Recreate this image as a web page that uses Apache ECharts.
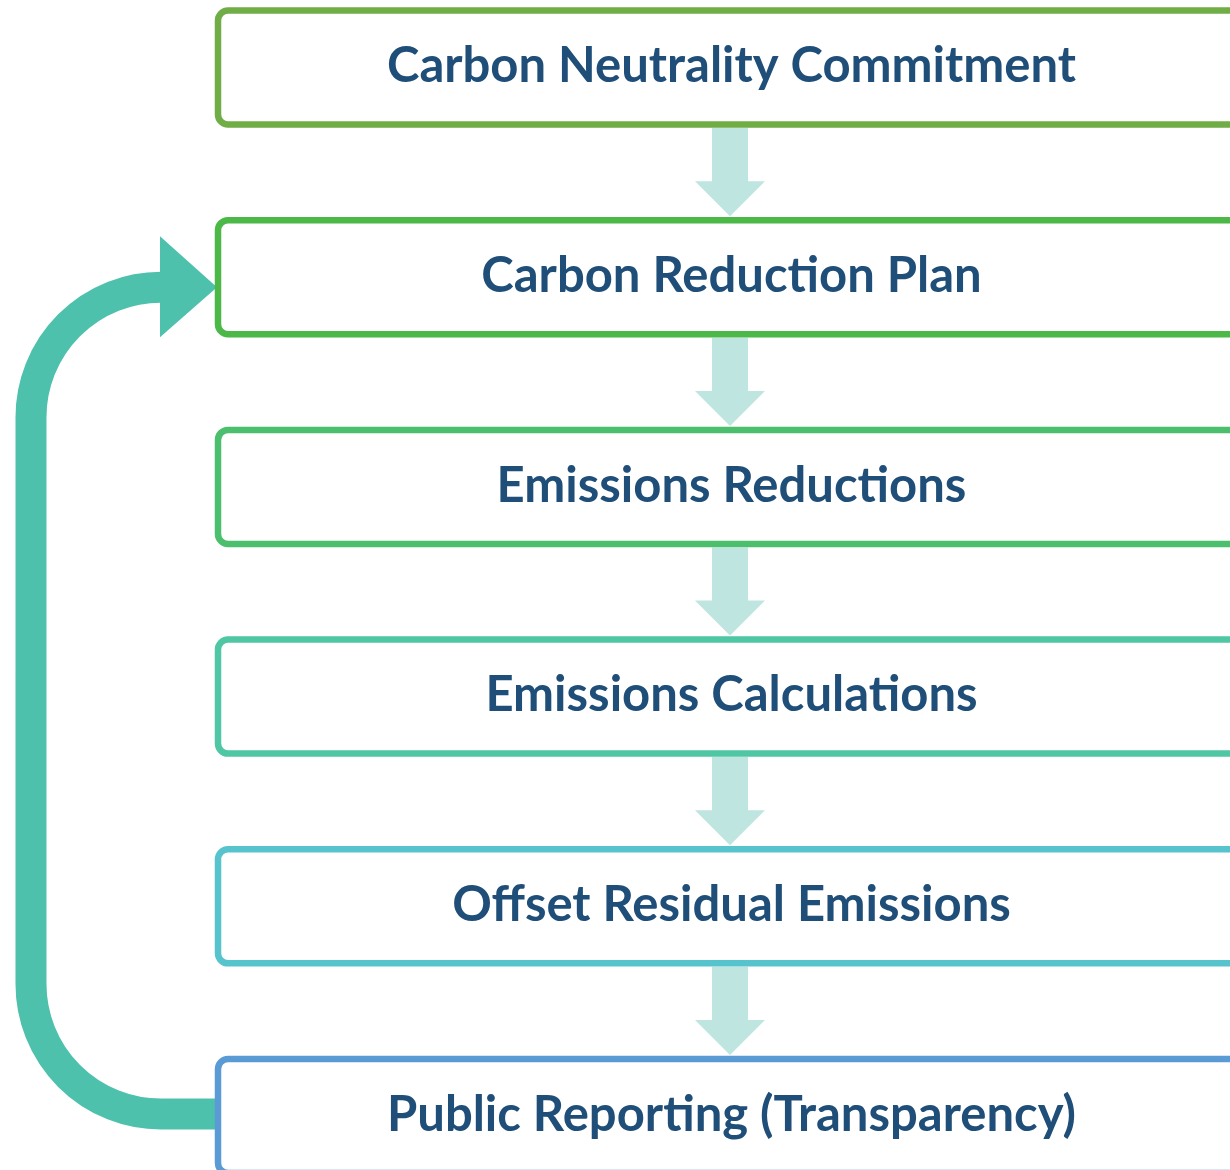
<!DOCTYPE html>
<html>

<head>
	<meta charset="UTF-8">
	<title>Carbon neutrality process</title>
	<style>
		html, body { margin: 0; padding: 0; background: #fff; }
		#display { width: 1230px; height: 1170px; }
	</style>
</head>

<body>
	<div id="display"></div>
</body>
<script src="https://cdn.jsdelivr.net/npm/echarts@6/dist/echarts.min.js"></script>
<script>
	// steps of the process, top to bottom
	var steps = [
		'Carbon Neutrality Commitment',
		'Carbon Reduction Plan',
		'Emissions Reductions',
		'Emissions Calculations',
		'Offset Residual Emissions',
		'Public Reporting (Transparency)'
	];
	// arrows between consecutive steps: [from, to]
	var links = [[0, 1], [1, 2], [2, 3], [3, 4], [4, 5]];
	// feedback loop: [from, to]
	var loops = [[5, 1]];

	// styles
	var borderColors = ['#70AD47', '#4BB848', '#4CBF6E', '#4FC6A4', '#56C3CD', '#5B9BD5'];
	var textColor = '#1F4E79';
	var linkColor = '#BEE5DF';
	var loopColor = '#4EC1AD';

	// layout (in axis units = pixels)
	var boxLeft = 218, boxRight = 1245, boxTop0 = 10.5, boxPitch = 209.7, boxH = 114;

	function boxTop(i) { return boxTop0 + i * boxPitch; }

	var myChart = echarts.init(document.getElementById('display'));

	var option = {
		animation: false,
		grid: { left: 0, right: 0, top: 0, bottom: 0 },
		xAxis: { type: 'value', min: 0, max: 1230, show: false },
		yAxis: { type: 'value', min: 0, max: 1170, inverse: true, show: false },
		series: [
			{
				// feedback loop arrow
				type: 'custom',
				coordinateSystem: 'cartesian2d',
				data: loops,
				renderItem: function (params, api) {
					var from = api.value(0), to = api.value(1);
					var yStart = boxTop(from) + boxH / 2 - 2;
					var yEnd = boxTop(to) + boxH / 2 + 10;
					var xCol = 31, r = 130, headBase = 160;
					var p0 = api.coord([boxLeft, yStart]);
					var p1 = api.coord([xCol + r, yStart]);
					var p2 = api.coord([xCol, yStart - r]);
					var p3 = api.coord([xCol, yEnd + r]);
					var p4 = api.coord([xCol + r, yEnd]);
					var p5 = api.coord([headBase + 2, yEnd]);
					var path = 'M' + p0[0] + ' ' + p0[1] +
						' L' + p1[0] + ' ' + p1[1] +
						' A' + r + ' ' + r + ' 0 0 1 ' + p2[0] + ' ' + p2[1] +
						' L' + p3[0] + ' ' + p3[1] +
						' A' + r + ' ' + r + ' 0 0 1 ' + p4[0] + ' ' + p4[1] +
						' L' + p5[0] + ' ' + p5[1];
					var h1 = api.coord([headBase, yEnd - 51]);
					var h2 = api.coord([headBase, yEnd + 50]);
					var h3 = api.coord([boxLeft - 1, yEnd]);
					return {
						type: 'group',
						children: [
							{
								type: 'path',
								shape: { pathData: path },
								style: { fill: 'none', stroke: loopColor, lineWidth: 31 }
							},
							{
								type: 'polygon',
								shape: { points: [h1, h2, h3] },
								style: { fill: loopColor }
							}
						]
					};
				}
			},
			{
				// arrows between steps
				type: 'custom',
				coordinateSystem: 'cartesian2d',
				data: links,
				renderItem: function (params, api) {
					var from = api.value(0), to = api.value(1);
					var y0 = boxTop(from) + boxH + 3.5;
					var y1 = boxTop(to) - 4;
					var yHead = y1 - 35;
					var cx = 730;
					var pts = [
						[cx - 18, y0], [cx + 18, y0], [cx + 18, yHead], [cx + 35, yHead],
						[cx, y1], [cx - 35, yHead], [cx - 18, yHead]
					].map(function (p) { return api.coord(p); });
					return {
						type: 'polygon',
						shape: { points: pts },
						style: { fill: linkColor }
					};
				}
			},
			{
				// step boxes
				type: 'custom',
				coordinateSystem: 'cartesian2d',
				data: steps.map(function (s, i) { return [i]; }),
				renderItem: function (params, api) {
					var i = params.dataIndex;
					var tl = api.coord([boxLeft, boxTop(i)]);
					var br = api.coord([boxRight, boxTop(i) + boxH]);
					var c = api.coord([(boxLeft + boxRight) / 2, boxTop(i) + boxH / 2]);
					return {
						type: 'group',
						children: [
							{
								type: 'rect',
								shape: { x: tl[0], y: tl[1], width: br[0] - tl[0], height: br[1] - tl[1], r: 10 },
								style: { fill: '#fff', stroke: borderColors[i], lineWidth: 6.5 }
							},
							{
								type: 'text',
								style: {
									text: steps[i],
									x: c[0],
									y: c[1] - 1,
									align: 'center',
									verticalAlign: 'middle',
									fill: textColor,
									font: 'bold 49px Lato'
								}
							}
						]
					};
				}
			}
		]
	};

	myChart.setOption(option);
</script>

</html>
